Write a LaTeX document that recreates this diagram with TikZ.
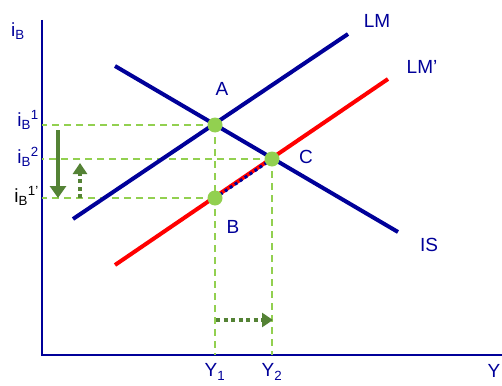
\documentclass[tikz,border=0pt]{standalone}
\usepackage{fontspec}
\setmainfont{Liberation Sans}
\usetikzlibrary{arrows.meta}
\definecolor{navy}{RGB}{0,0,153}
\definecolor{lightgreen}{RGB}{146,208,80}
\definecolor{darkgreen}{RGB}{84,130,53}

\begin{document}
\begin{tikzpicture}[x=1pt,y=-1pt,
    curve/.style={line width=4pt},
    guide/.style={lightgreen,line width=1.5pt,dash pattern=on 7pt off 5pt},
    pt/.style={circle,fill=lightgreen,inner sep=0pt,minimum size=15pt},
    lbl/.style={text=navy,font=\fontsize{19}{22}\selectfont,inner sep=1pt},
    movearrow/.style={darkgreen,line width=3.5pt,dash pattern=on 4pt off 3.5pt,-{Triangle[length=11pt,width=14pt]}}]
    \useasboundingbox (0,0) rectangle (502,385);
    % axes
    \coordinate (top) at (42,20);
    \coordinate (O) at (42,355);
    \coordinate (right) at (502,355);
    \draw[navy,line width=1.2pt] (top) -- (O) -- (right);
    \node[lbl] (iB) at (18,31) {i\textsubscript{B}};
    \node[lbl,anchor=north] (Y) at (494,363) {Y};
    % equilibria
    \coordinate (A) at (215,125);
    \coordinate (C) at (272,159);
    \coordinate (B) at (215,198);
    % guides
    \draw[guide] (A) -- (A -| O);
    \draw[guide] (C) -- (C -| O);
    \draw[guide] (B) -- (B -| O);
    \draw[guide] (A) -- (A |- O);
    \draw[guide] (C) -- (C |- O);
    % curves
    \draw[curve,navy] (73,219) -- (348,34);
    \draw[curve,red] (115,265) -- (388,79);
    \draw[curve,navy] (115,66) -- (398,232);
    \draw[navy,line width=3pt,dash pattern=on 3pt off 3pt] (B) -- (C);
    \node[lbl] (LM) at (377,21) {LM};
    \node[lbl] (LMp) at (422,67) {LM'};
    \node[lbl] (IS) at (429,245) {IS};
    \node[pt] (ptA) at (A) {};
    \node[pt] (ptC) at (C) {};
    \node[pt] (ptB) at (B) {};
    \node[lbl] (labA) at (222,89) {A};
    \node[lbl] (labC) at (306,157) {C};
    \node[lbl] (labB) at (233,227) {B};
    % rate labels
    \node[lbl,anchor=east] (i1) at (40,120) {i\textsubscript{B}\textsuperscript{1}};
    \node[lbl,anchor=east] (i2) at (40,157) {i\textsubscript{B}\textsuperscript{2}};
    \node[lbl,anchor=east,text=black] (i1p) at (40,196) {i\textsubscript{B}\textsuperscript{1'}};
    \node[lbl] (Y1) at (215,372) {Y\textsubscript{1}};
    \node[lbl] (Y2) at (272,372) {Y\textsubscript{2}};
    % shifts
    \coordinate (d1) at (58,130);
    \coordinate (d2) at (58,198);
    \draw[darkgreen,line width=3.5pt,-{Triangle[length=12pt,width=16pt]}] (d1) -- (d2);
    \coordinate (u1) at (80,198);
    \coordinate (u2) at (80,163);
    \draw[movearrow] (u1) -- (u2);
    \coordinate (r1) at (216,320);
    \coordinate (r2) at (273,320);
    \draw[movearrow] (r1) -- (r2);
\end{tikzpicture}
\end{document}
